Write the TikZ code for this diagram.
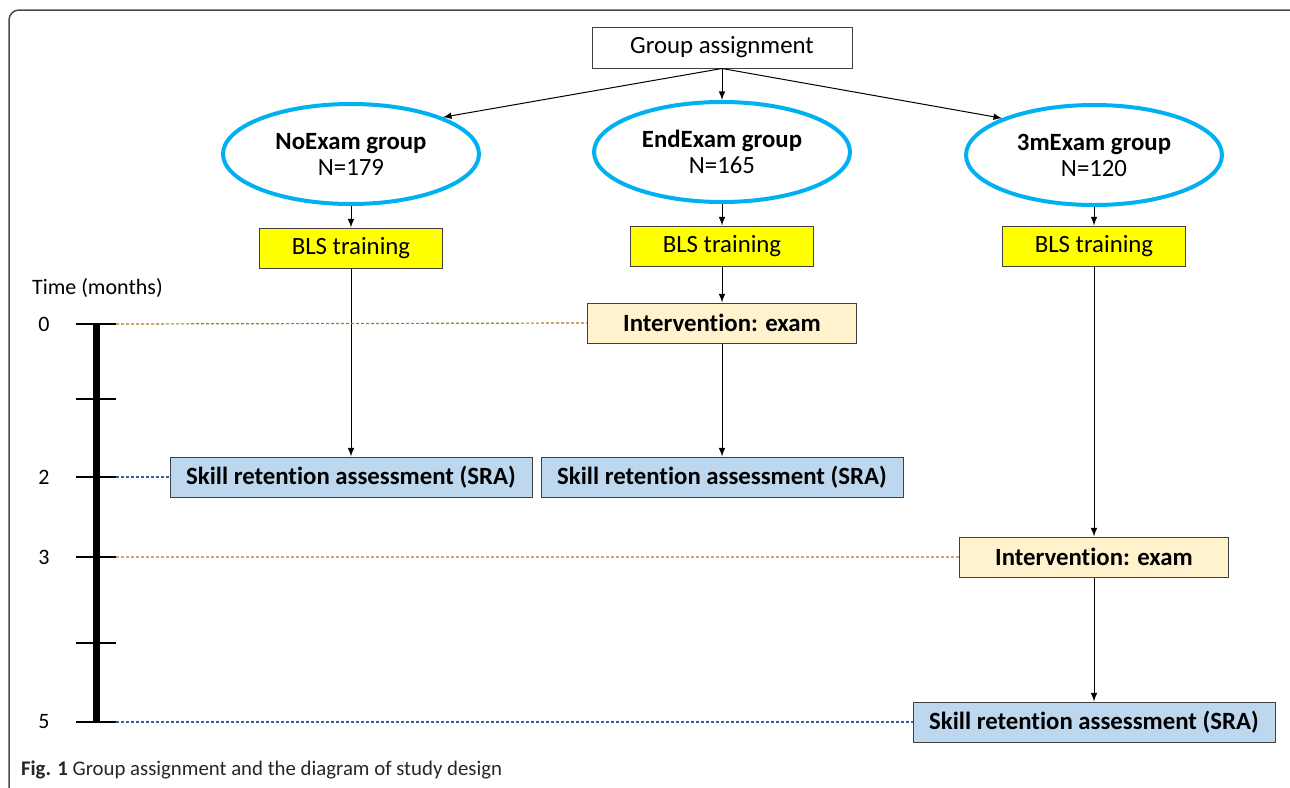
\documentclass[tikz,border=0pt]{standalone}
\usepackage{fontspec}
\setmainfont{Carlito}[Ligatures=NoCommon]
\usetikzlibrary{shapes.geometric}
\definecolor{bleuciel}{RGB}{0,176,240}
\definecolor{jaune}{RGB}{255,255,0}
\definecolor{creme}{RGB}{255,242,204}
\definecolor{bleupale}{RGB}{189,215,238}
\definecolor{ocre}{RGB}{170,125,20}
\definecolor{sable}{RGB}{200,170,115}
\definecolor{bleufonce}{RGB}{46,100,165}
\begin{document}
\begin{tikzpicture}[x=0.5pt,y=-0.5pt]
% Styles
\tikzstyle{cadre}=[draw=black!75,line width=0.5pt,minimum height=20pt,inner sep=0pt,font=\fontsize{12.4}{14}\selectfont]
\tikzstyle{groupe}=[ellipse,draw=bleuciel,line width=2pt,minimum width=128pt,minimum height=50pt,inner sep=0pt,align=center,font=\fontsize{12.4}{13}\selectfont]
\tikzstyle{bls}=[cadre,fill=jaune,minimum width=91.5pt]
\tikzstyle{examen}=[cadre,fill=creme,minimum width=134.5pt,font=\fontsize{12.4}{14}\selectfont\bfseries]
\tikzstyle{sra}=[cadre,fill=bleupale,minimum width=181pt,font=\fontsize{12.4}{14}\selectfont\bfseries]
\tikzstyle{fleche}=[->,>=latex,line width=0.5pt]
\tikzstyle{pointille}=[dash pattern=on 1.5pt off 1pt,line width=0.6pt]
\tikzstyle{graduation}=[font=\fontsize{11}{13}\selectfont]
% Colonnes
\def\ColA{351}
\def\ColB{722}
\def\ColC{1094}
% Axe du temps
\def\Axe{96}
\def\Tic{20}
% Page
\useasboundingbox (0,0) rectangle (1290,787);
\clip (0,0) rectangle (1290,787);
\draw[black!70,line width=0.75pt,rounded corners=5pt] (9,10) rectangle (1320,815);
% Affectation
\node[cadre,minimum width=130pt,minimum height=20.5pt] (affect) at (\ColB,47.5) {Group assignment};
% Groupes
\node[groupe] (noexam) at (\ColA,154) {\textbf{NoExam group}\\N=179};
\node[groupe] (endexam) at (\ColB,152) {\textbf{EndExam group}\\N=165};
\node[groupe] (troisexam) at (\ColC,155) {\textbf{3mExam group}\\N=120};
% Formation
\node[bls] (blsA) at (\ColA,248) {BLS training};
\node[bls] (blsB) at (\ColB,246) {BLS training};
\node[bls] (blsC) at (\ColC,246) {BLS training};
% Interventions
\node[examen] (examB) at (\ColB,323) {Intervention: exam};
\node[examen] (examC) at (\ColC,557) {Intervention: exam};
% Evaluations
\node[sra] (sraA) at (\ColA,477) {Skill retention assessment (SRA)};
\node[sra] (sraB) at (\ColB,477) {Skill retention assessment (SRA)};
\node[sra] (sraC) at (\ColC,722) {Skill retention assessment (SRA)};
% Fleches
\draw[fleche] (affect.south) -- (noexam.north east);
\draw[fleche] (affect.south) -- (endexam.north);
\draw[fleche] (affect.south) -- (troisexam.north west);
\draw[fleche] (noexam) -- (blsA);
\draw[fleche] (endexam) -- (blsB);
\draw[fleche] (troisexam) -- (blsC);
\draw[fleche] (blsA) -- (sraA);
\draw[fleche] (blsB) -- (examB);
\draw[fleche] (examB) -- (sraB);
\draw[fleche] (blsC) -- (examC);
\draw[fleche] (examC) -- (sraC);
% Axe du temps
\node[graduation,anchor=west] (titre) at (25,288) {Time (months)};
\draw[line width=3.5pt] (\Axe,324) -- (\Axe,722);
\foreach \y in {324,399,477,557,643,722}
  \draw[line width=0.6pt] (\Axe-\Tic,\y) -- (\Axe+\Tic,\y);
\node[graduation] (m0) at (44,324) {0};
\node[graduation] (m2) at (44,477) {2};
\node[graduation] (m3) at (44,557) {3};
\node[graduation] (m5) at (44,722) {5};
\coordinate (t0) at (\Axe+\Tic,324);
\coordinate (t2) at (\Axe+\Tic,477);
\coordinate (t3) at (\Axe+\Tic,557);
\coordinate (t5) at (\Axe+\Tic,722);
\draw[pointille,ocre] (t0) -- (examB.west);
\draw[pointille,bleufonce] (t2) -- (sraA.west);
\draw[pointille,sable] (t3) -- (examC.west);
\draw[pointille,bleufonce] (t5) -- (sraC.west);
% Legende
\node[anchor=west,font=\fontsize{10.4}{12}\selectfont,text=black!85] (legende) at (14,770) {\textbf{Fig. 1} Group assignment and the diagram of study design};
\end{tikzpicture}
\end{document}
